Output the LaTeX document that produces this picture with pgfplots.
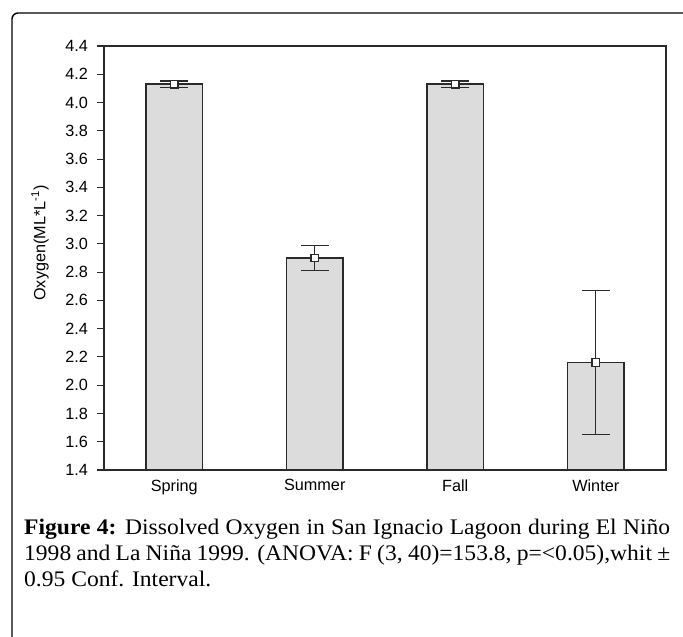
\documentclass[border=0pt]{standalone}
\usepackage{fontspec}
\setmainfont{Liberation Serif}
\newfontfamily\capfont[FakeStretch=1.06]{Liberation Serif}
\newfontfamily\arial{Liberation Sans}
\usepackage{pgfplots}
\usepackage{pgfplotstable}
\pgfplotsset{compat=1.18}
\pgfplotstableread{
x y e
0 4.13 0.022
1 2.90 0.090
2 4.13 0.022
3 2.16 0.510
}\datatable
\definecolor{barfill}{HTML}{DCDCDC}
\definecolor{edge}{HTML}{2A2A2A}
\begin{document}
\begin{tikzpicture}
\useasboundingbox (0,0) rectangle (683bp,-637bp);
\draw[line width=1.4bp, rounded corners=6bp] (12bp,-645bp) -- (12bp,-13bp) -- (695bp,-13bp);
\begin{axis}[
  at={(104bp,-470bp)}, anchor=south west,
  scale only axis, width=562bp, height=424bp,
  xmin=-0.5, xmax=3.5, ymin=1.4, ymax=4.4,
  ytick={1.4,1.6,1.8,2.0,2.2,2.4,2.6,2.8,3.0,3.2,3.4,3.6,3.8,4.0,4.2,4.4},
  xtick={0,1,2,3}, xticklabels={Spring,Summer,Fall,Winter},
  yticklabel style={xshift=-5.5bp, /pgf/number format/.cd, fixed, fixed zerofill, precision=1},
  /pgf/number format/assume math mode=true,
  ticklabel style={font=\arial\fontsize{16.3}{19}\selectfont},
  tick align=outside, ytick pos=left, major tick length=7bp,
  xtick style={draw=none},
  y tick style={line width=1.1bp, edge},
  axis line style={line width=1.4bp, edge},
  xticklabel style={yshift=1bp},
]
\addplot[ybar, bar width=0.4, fill=barfill, draw=edge, line width=1.4bp] table[x=x,y=y] {\datatable};
\addplot[only marks, mark=square*, mark size=3.8bp, mark options={fill=white, draw=edge, line width=1.3bp},
  error bars/.cd, y dir=both, y explicit,
  error bar style={line width=1.4bp, edge},
  error mark options={rotate=90, mark size=14bp, line width=1.4bp, edge}]
  table[x=x,y=y,y error=e] {\datatable};
\end{axis}
\node[rotate=90, font=\arial\fontsize{16.3}{19}\selectfont, inner sep=0] at (40bp,-243bp) {Oxygen(ML*L\textsuperscript{-1})};
\begin{scope}[every node/.style={anchor=base west, inner sep=0, font=\capfont\fontsize{22.3}{26}\selectfont}]
\node at (24bp,-534bp) {\makebox[646bp][s]{\textbf{Figure 4:} Dissolved Oxygen in San Ignacio Lagoon during El Niño}};
\node at (24bp,-560bp) {\makebox[646bp][s]{1998 and La Niña 1999. (ANOVA: F (3, 40)=153.8, p=<0.05),whit ±}};
\node at (24bp,-586bp) {0.95 Conf. Interval.};
\end{scope}
\end{tikzpicture}
\end{document}
